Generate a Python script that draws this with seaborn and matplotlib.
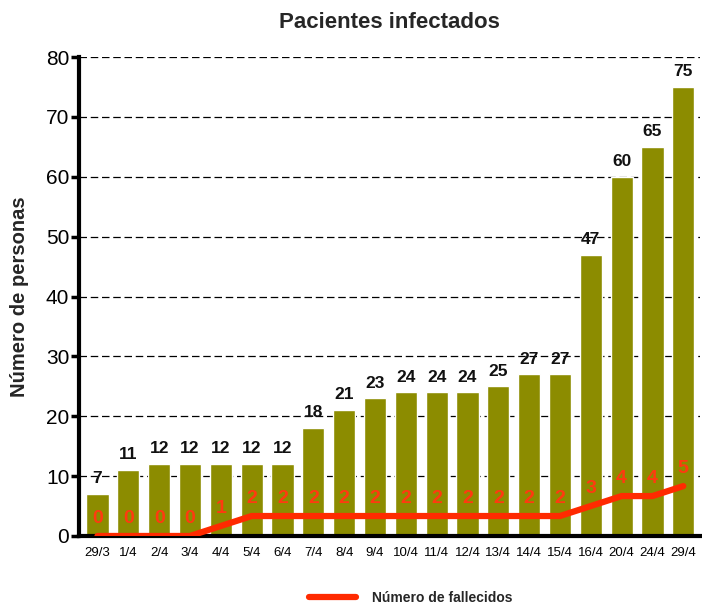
import matplotlib
matplotlib.use("Agg")
import matplotlib.pyplot as plt
import seaborn as sns
import numpy as np
import pandas as pd

fechas = ["29/3", "1/4", "2/4", "3/4", "4/4", "5/4", "6/4", "7/4", "8/4", "9/4", "10/4",
          "11/4", "12/4", "13/4", "14/4", "15/4", "16/4", "20/4", "24/4", "29/4"]
infectados = [7, 11, 12, 12, 12, 12, 12, 18, 21, 23, 24, 24, 24, 25, 27, 27, 47, 60, 65, 75]
fallecidos = [0, 0, 0, 0, 1, 2, 2, 2, 2, 2, 2, 2, 2, 2, 2, 2, 3, 4, 4, 5]

df = pd.DataFrame({"fecha": fechas, "infectados": infectados, "fallecidos": fallecidos})

sns.set_style("white")
plt.rcParams["font.family"] = ["Liberation Sans", "DejaVu Sans"]

fig = plt.figure(figsize=(7.02, 6.07), dpi=100)
ax = fig.add_axes([0.1125, 0.117, 0.885, 0.789])

sns.barplot(data=df, x="fecha", y="infectados", order=fechas, color="#8c8c00",
            saturation=1, width=0.72, ax=ax, zorder=2)

ax.set_ylim(0, 80)
ax.set_xlim(-0.6, len(fechas) - 0.45)
ax.set_yticks(range(0, 81, 10))
ax.yaxis.grid(True, color="black", linestyle=(0, (6, 3)), linewidth=0.9)
ax.set_axisbelow(True)
for s in ["top", "right"]:
    ax.spines[s].set_visible(False)
for s in ["left", "bottom"]:
    ax.spines[s].set_linewidth(3)
    ax.spines[s].set_color("black")
ax.tick_params(axis="y", length=6, width=2.5, labelsize=15, pad=1, colors="black")
ax.tick_params(axis="x", length=6, width=2.5, labelsize=9.5, pad=2, colors="black")
ax.set_xlabel("")
ax.set_ylabel("Número de personas", fontsize=14.5, fontweight="bold", labelpad=12)
ax.set_title("Pacientes infectados", fontsize=16, fontweight="bold", pad=21)

for i, v in enumerate(infectados):
    ax.text(i, v + 1.3, str(v), ha="center", va="bottom", fontsize=12.5,
            fontweight="bold", color="#111111")

# red line on a hidden second scale
ax2 = ax.twinx()
x = np.arange(len(fechas))
sns.lineplot(x=x, y=fallecidos, color="#ff2a00", linewidth=4.5, ax=ax2,
             label="Número de fallecidos", legend=False, zorder=3)
ax2.set_ylim(0, 48)
ax2.set_xlim(ax.get_xlim())
ax2.axis("off")
for i, v in enumerate(fallecidos):
    ax2.annotate(str(v), (i, v), xytext=(0, 12.5), textcoords="offset points",
                 ha="center", va="center", fontsize=14, fontweight="bold",
                 color="#ff3a10")

handles, labels = ax2.get_legend_handles_labels()
fig.legend(handles, labels, loc="center", bbox_to_anchor=(0.585, 0.015),
           frameon=False, prop={"size": 10, "weight": "bold"},
           handlelength=3.4, handletextpad=1.1)

fig.savefig("out.png", dpi=100)
